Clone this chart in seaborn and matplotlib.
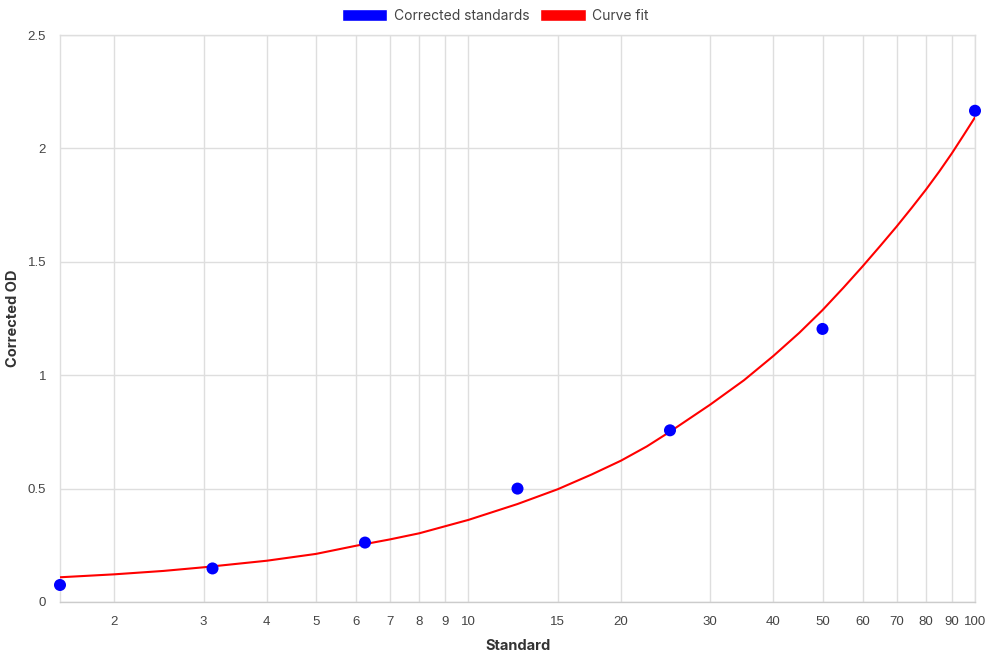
import matplotlib
matplotlib.use("Agg")
import matplotlib.pyplot as plt
from matplotlib.patches import Patch
from matplotlib.ticker import FixedLocator, NullLocator, FixedFormatter
import pandas as pd
import seaborn as sns

# Standards (measured points)
standard = [1.5625, 3.125, 6.25, 12.5, 25, 50, 100]
corrected_od = [0.075, 0.148, 0.262, 0.50, 0.757, 1.204, 2.166]

# Curve fit
fit_x = [1.5625, 2, 2.5, 3, 4, 5, 6, 7, 8, 10, 12.5, 15, 17.5, 20, 22.5, 25,
         30, 35, 40, 45, 50, 55, 60, 65, 70, 75, 80, 85, 90, 95, 100]
fit_y = [0.109, 0.122, 0.137, 0.153, 0.182, 0.212, 0.248, 0.276, 0.303, 0.362,
         0.432, 0.497, 0.562, 0.623, 0.686, 0.751,
         0.870, 0.978, 1.085, 1.187, 1.287, 1.386, 1.480, 1.570, 1.655, 1.738,
         1.818, 1.898, 1.978, 2.059, 2.137]

x_ticks = [2, 3, 4, 5, 6, 7, 8, 9, 10, 15, 20, 30, 40, 50, 60, 70, 80, 90, 100]
y_ticks = [0, 0.5, 1, 1.5, 2, 2.5]
y_tick_labels = ["0", "0.5", "1", "1.5", "2", "2.5"]

sns.set_style("white")
plt.rcParams["font.family"] = ["Liberation Sans", "DejaVu Sans"]

points = pd.DataFrame({"Standard": standard, "Corrected OD": corrected_od})
curve = pd.DataFrame({"Standard": fit_x, "Corrected OD": fit_y})

fig = plt.figure(figsize=(9.9, 6.6), dpi=100)
ax = fig.add_axes([60 / 990, 58 / 660, 915 / 990, 567 / 660])

sns.lineplot(data=curve, x="Standard", y="Corrected OD", ax=ax, color="#ff0000",
             linewidth=1.5, zorder=3)
sns.scatterplot(data=points, x="Standard", y="Corrected OD", ax=ax, color="#0000ff",
                s=75, edgecolor="none", zorder=4, clip_on=False)

ax.set_xscale("log")
ax.set_xlim(1.5625, 100)
ax.set_ylim(0, 2.5)

ax.xaxis.set_major_locator(FixedLocator(x_ticks))
ax.xaxis.set_major_formatter(FixedFormatter([str(t) for t in x_ticks]))
ax.xaxis.set_minor_locator(NullLocator())
ax.set_yticks(y_ticks)
ax.set_yticklabels(y_tick_labels)

grid_col = "#dedede"
ax.grid(True, color=grid_col, linewidth=1)
for s in ax.spines.values():
    s.set_color(grid_col)
    s.set_linewidth(1)
ax.spines["bottom"].set_color("#cccccc")
ax.tick_params(axis="both", length=7, width=1, color=grid_col, labelsize=9.5,
               labelcolor="#444444")
ax.tick_params(axis="x", pad=3)
ax.tick_params(axis="y", pad=3)

title_font = {"family": ["Inter", "DejaVu Sans"], "size": 10.5, "weight": "bold",
              "color": "#333333"}
ax.set_xlabel("Standard", va="center", **title_font)
ax.set_ylabel("Corrected OD", va="center", **title_font)
ax.xaxis.set_label_coords(0.5, -44 / 567)
ax.yaxis.set_label_coords(-47 / 915, 0.5)

handles = [Patch(facecolor="#0000ff", label="Corrected standards"),
           Patch(facecolor="#ff0000", label="Curve fit")]
fig.legend(handles=handles, loc="center", bbox_to_anchor=(495 / 990, 1 - 16 / 660),
           ncol=2, frameon=False, handlelength=3.3, handleheight=0.95,
           handletextpad=0.45, columnspacing=0.75,
           prop={"family": ["Inter", "DejaVu Sans"], "size": 10}, labelcolor="#444444")

fig.savefig("out.png", dpi=100)
